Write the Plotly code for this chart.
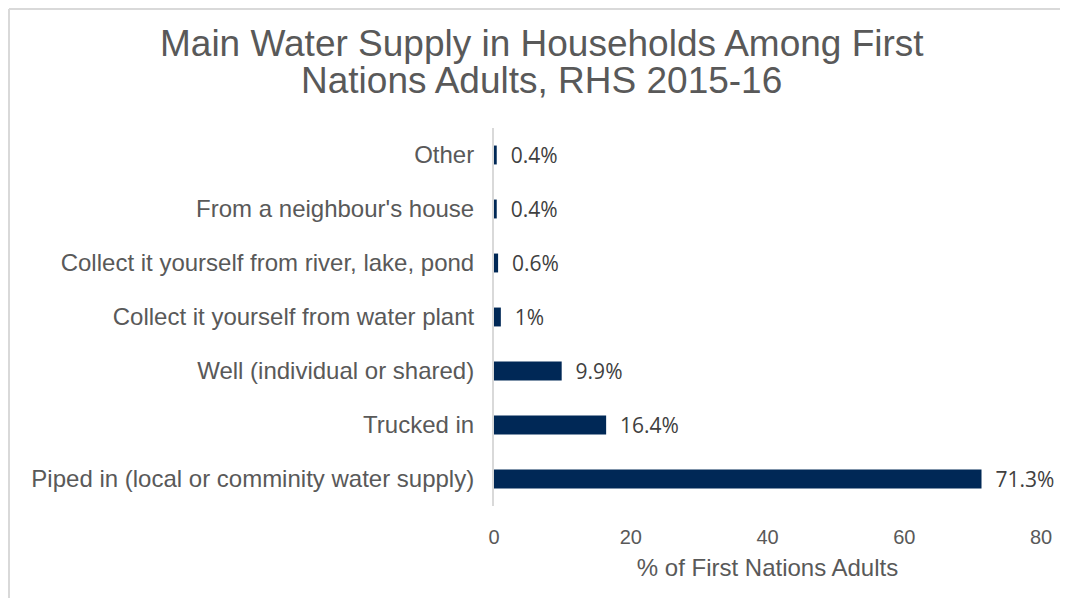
import plotly.graph_objects as go

categories = [
    "Other",
    "From a neighbour's house",
    "Collect it yourself from river, lake, pond",
    "Collect it yourself from water plant",
    "Well (individual or shared)",
    "Trucked in",
    "Piped in (local or comminity water supply)",
]
values = [0.4, 0.4, 0.6, 1, 9.9, 16.4, 71.3]
value_labels = ["0.4%", "0.4%", "0.6%", "1%", "9.9%", "16.4%", "71.3%"]
x_ticks = [0, 20, 40, 60, 80]
title_lines = ["Main Water Supply in Households Among First", "Nations Adults, RHS 2015-16"]
x_title = "% of First Nations Adults"

# page is rendered with an 8px body margin; positions below are page pixels
OFF = 8
W, H = 1068, 598
L, R, T, B = 494 - OFF, 1068 - 1041 + OFF, 128 - OFF, 598 - 506 + OFF
pw, ph = W - L - R, H - T - B

def px_x(p):
    return (p - OFF - L) / pw

def px_y(p):
    return (H - B - (p - OFF)) / ph

fig = go.Figure(
    go.Bar(
        x=values,
        y=categories,
        orientation="h",
        marker=dict(color="#002856", line=dict(width=0)),
        width=0.35,
        text=["  " + t for t in value_labels],
        textposition="outside",
        constraintext="none",
        cliponaxis=False,
        textfont=dict(family="Open Sans", size=21, color="#404040"),
        hoverinfo="skip",
    )
)

fig.update_layout(
    width=W,
    height=H,
    margin=dict(l=L, r=R, t=T, b=B, autoexpand=False),
    paper_bgcolor="white",
    plot_bgcolor="white",
    showlegend=False,
    font=dict(family="Liberation Sans, Arial, sans-serif", color="#595959"),
)

fig.update_xaxes(
    range=[0, 80],
    tickvals=x_ticks,
    showgrid=False,
    zeroline=False,
    showline=False,
    ticks="outside",
    ticklen=13,
    tickcolor="rgba(0,0,0,0)",
    tickfont=dict(size=20, color="#595959"),
    title=dict(text=x_title, font=dict(size=24, color="#595959"), standoff=12),
    fixedrange=True,
)

fig.update_yaxes(
    categoryorder="array",
    categoryarray=categories,
    autorange="reversed",
    showgrid=False,
    zeroline=False,
    showline=True,
    linecolor="#d9d9d9",
    linewidth=2,
    ticks="outside",
    ticklen=13,
    tickcolor="rgba(0,0,0,0)",
    tickfont=dict(size=24, color="#595959"),
    fixedrange=True,
)

# title lines
for txt, py in zip(title_lines, [44, 80]):
    fig.add_annotation(
        text=txt, xref="paper", yref="paper",
        x=px_x(541.5), y=px_y(py), xanchor="center", yanchor="middle",
        showarrow=False, font=dict(size=37, color="#595959"),
    )

# chart frame (as close to the reference edge as the page allows)
fig.add_shape(type="line", xref="paper", yref="paper",
              x0=px_x(OFF + 1), x1=px_x(W + OFF + 5), y0=px_y(OFF + 1), y1=px_y(OFF + 1),
              line=dict(color="#d9d9d9", width=2))
fig.add_shape(type="line", xref="paper", yref="paper",
              x0=px_x(OFF + 1), x1=px_x(OFF + 1), y0=px_y(OFF + 1), y1=px_y(H + OFF + 5),
              line=dict(color="#d9d9d9", width=2))

fig.write_html("out.html")
